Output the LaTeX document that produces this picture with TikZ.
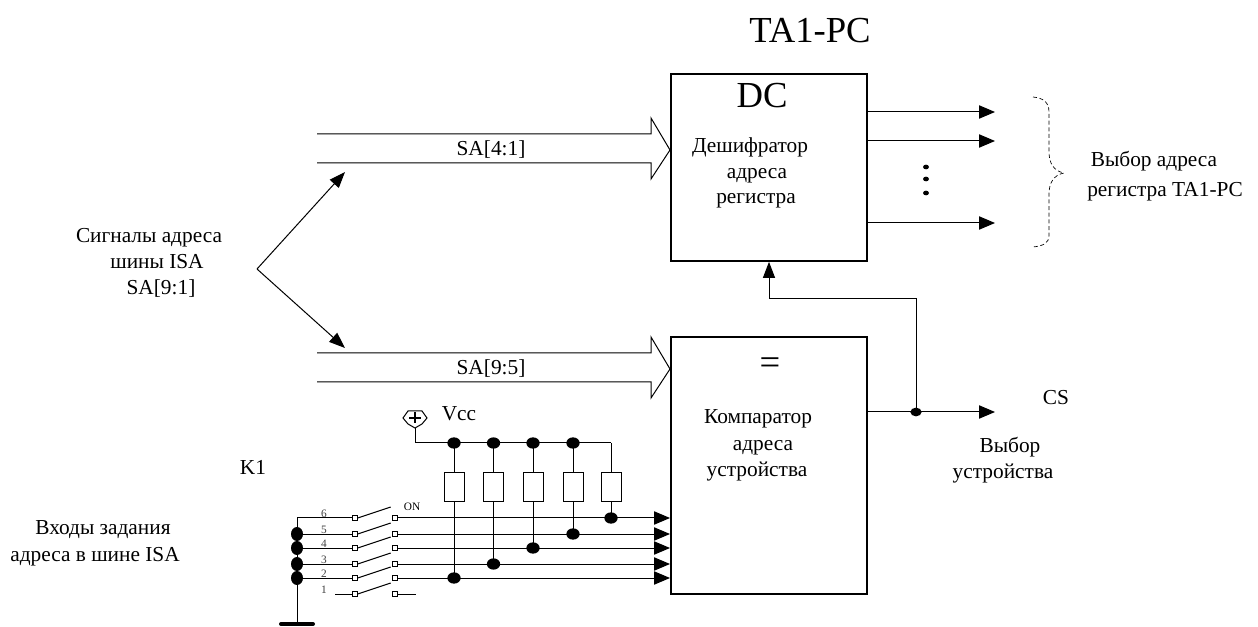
\documentclass[tikz,border=0pt]{standalone}
\usepackage{fontspec}
\setmainfont{Liberation Serif}
\usetikzlibrary{positioning, arrows.meta, calc, shapes.geometric}

\begin{document}
\begin{tikzpicture}[
  x=0.75pt, y=-0.75pt,
  every node/.style={font=\fontsize{16}{18}\selectfont, inner sep=0pt},
  lbl/.style={text height=10.5pt, text depth=3.5pt, yshift=-1.5pt},
  big/.style={font=\fontsize{27.5}{30}\selectfont},
  blok/.style={draw, line width=1.5pt, minimum width=147pt},
  wire/.style={line width=0.75pt},
  sig/.style={wire, -{Triangle[length=12pt, width=10pt]}},
  arr/.style={wire, -{Triangle[length=12pt, width=9pt]}},
  jdot/.style={ellipse, fill=black, minimum width=10pt, minimum height=8.5pt},
  ldot/.style={ellipse, fill=black, minimum width=9pt, minimum height=10.5pt},
  res/.style={draw, line width=0.75pt, fill=white, minimum width=15pt, minimum height=22pt},
  cont/.style={draw, line width=0.6pt, fill=white, minimum size=3.5pt},
  tiny/.style={font=\fontsize{8.5}{10}\selectfont},
]
  % Frame
  \useasboundingbox (0,0) rectangle (1258,627);

  % Blocks
  \node[blok, minimum height=140pt] (dc) at (769,167.5) {};
  \node[blok, minimum height=192.75pt] (cmp) at (769,465.5) {};
  \node[big] (title) at (810,31) {TA1-PC};
  \node[big] (dclabel) at (762,96) {DC};
  \node[lbl] (dc1) at (750,146) {Дешифратор};
  \node[lbl] (dc2) at (757,172) {адреса};
  \node[lbl] (dc3) at (756,197) {регистра};
  \node[big] (eq) at (770,366) {=};
  \node[lbl] (cmp1) at (758,417) {Компаратор};
  \node[lbl] (cmp2) at (763,444) {адреса};
  \node[lbl] (cmp3) at (757,470) {устройства};

  % Buses
  \foreach \n/\t [evaluate=\t as \a using {\t-16}, evaluate=\t as \b using {\t+29},
                  evaluate=\t as \c using {\t+45}, evaluate=\t as \m using {\t+16}] in {up/134, low/353} {
    \coordinate (\n a) at (317,\t);
    \coordinate (\n b) at (317,\b);
    \coordinate (\n tip) at (cmp.west |- 0,\m);
    \draw[wire, line join=miter] (\n a) -- (651,\t) -- (651,\a) -- (\n tip) -- (651,\c) -- (651,\b) -- (\n b);
  }
  \node[lbl] (sa41) at (491,149) {SA[4:1]};
  \node[lbl] (sa95) at (491,368) {SA[9:5]};

  % Address signals
  \coordinate (fork) at (257,269);
  \coordinate (forkup) at (345,172);
  \coordinate (forklow) at (345,348);
  \draw[arr] (fork) -- (forkup);
  \draw[arr] (fork) -- (forklow);
  \node[lbl] (isa1) at (149,236) {Сигналы адреса};
  \node[lbl] (isa2) at (157,262) {шины ISA};
  \node[lbl] (isa3) at (161,288) {SA[9:1]};

  % Decoder outputs
  \foreach \i/\y in {1/112, 2/141, 3/223} {
    \coordinate (out\i) at (995,\y);
    \draw[sig] (dc.east |- out\i) -- (out\i);
  }
  \foreach \i/\y in {1/167, 2/179, 3/193} {
    \node[ellipse, fill=black, minimum width=4.5pt, minimum height=3.5pt] (pt\i) at (926,\y) {};
  }
  \draw[wire, densely dashed, line width=0.5pt] (1033,97) .. controls (1043,98) and (1049,102) .. (1049,112)
    -- (1049,152) .. controls (1049,162) and (1053,171) .. (1064,173)
    .. controls (1053,175) and (1049,184) .. (1049,194)
    -- (1049,236) .. controls (1049,243) and (1043,246) .. (1033,247);
  \node[lbl] (sel1) at (1154,160) {Выбор адреса};
  \node[lbl] (sel2) at (1165,190) {регистра TA1-PC};

  % Device select
  \coordinate (cs) at (995,412);
  \node[jdot, minimum width=8.5pt, minimum height=6.5pt] (csdot) at (916,412) {};
  \draw[sig] (cmp.east |- cs) -- (cs);
  \draw[arr] (csdot.center) -- (916,299) -- (769,299) -- (dc.south -| 769,0);
  \node[lbl] (cslabel) at (1056,398) {CS};
  \node[lbl] (dev1) at (1010,446) {Выбор};
  \node[lbl] (dev2) at (1003,472) {устройства};

  % Vcc
  \draw[wire] (403,418) -- (408,411) -- (422,411) -- (427,418) -- (422,424) -- (415,428) -- (408,424) -- cycle;
  \draw[line width=1.2pt] (409,418) -- (421,418) (415,412.5) -- (415,423.5);
  \coordinate (vcc) at (415,428);
  \coordinate (railend) at (611,443);
  \draw[wire] (vcc) |- (railend);
  \node[lbl] (vcclabel) at (459,414) {Vcc};
  \node[lbl] (k1) at (253,468) {K1};

  % Switch rows
  \coordinate (gnd) at (297,624);
  \foreach \i/\y in {6/518, 5/534, 4/548, 3/564, 2/578, 1/594} {
    \node[cont] (sa\i) at (355,\y) {};
    \node[cont] (sb\i) at (395,\y) {};
    \draw[wire] (sa\i.east) -- ++(33,-11);
    \node[tiny, text=black!75] (num\i) at (324,\y-4) {\i};
  }
  \node[tiny] (on) at (412,507) {ON};
  \draw[wire] (sa6 -| gnd) -- (gnd);
  \draw[line width=3pt, line cap=round] (281,624) -- (gnd) -- (313,624);
  \draw[wire] (sa6 -| gnd) -- (sa6.west);
  \foreach \i in {5,4,3,2} {
    \node[ldot] (left\i) at (sa\i -| gnd) {};
    \draw[wire] (left\i.center) -- (sa\i.west);
  }
  \draw[wire] (335,594) -- (sa1.west);
  \draw[wire] (sb1.east) -- (416,594);

  % Pull-ups and outputs to comparator
  \foreach \i/\x/\r in {2/454/2, 3/493.5/3, 4/533/4, 5/573/5, 6/611/6} {
    \node[res] (r\i) at (\x,487) {};
    \node[jdot] (tap\i) at (sb\r -| r\i) {};
    \draw[sig] (sb\i.east) -- (cmp.west |- sb\i);
    \draw[wire] (r\i.south) -- (tap\i.center);
  }
  \foreach \i in {2,3,4,5} {
    \node[jdot] (rail\i) at (r\i |- railend) {};
    \draw[wire] (rail\i.center) -- (r\i.north);
  }
  \draw[wire] (railend) -- (r6.north);
  \node[lbl] (inp1) at (103,528) {Входы задания};
  \node[lbl] (inp2) at (95,555) {адреса в шине ISA};
\end{tikzpicture}
\end{document}
